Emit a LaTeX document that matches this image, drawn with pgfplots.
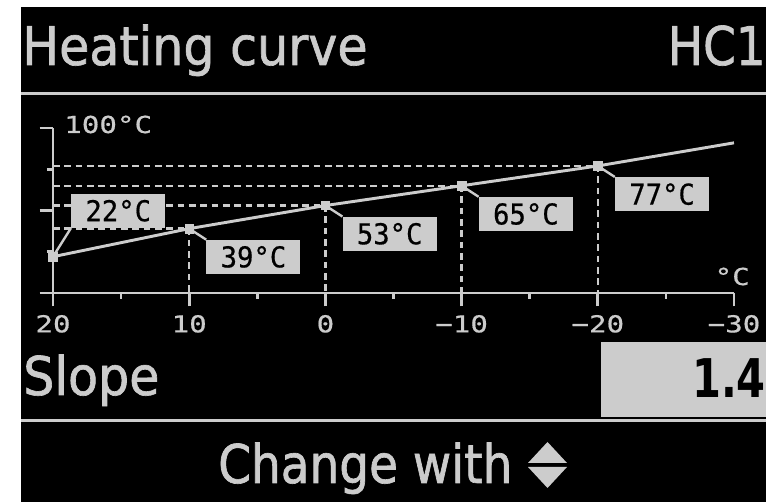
\documentclass[border=0pt]{standalone}
\usepackage{pgfplots}
\pgfplotsset{compat=1.18}
\usepackage{fontspec}
\setmainfont{DejaVu Sans}
\newfontfamily\headfont[FakeStretch=0.88, FakeBold=1.2]{DejaVu Sans}
\newfontfamily\headwide[FakeStretch=0.92, FakeBold=1.2]{DejaVu Sans}
\newfontfamily\numfont[FakeStretch=0.78]{DejaVu Sans}
\newfontfamily\tickfont[FakeStretch=1.25, FakeBold=0.6]{DejaVu Sans Mono}
\newfontfamily\boxfont[FakeStretch=0.95, FakeBold=0.6]{DejaVu Sans Mono}
\definecolor{lcd}{RGB}{204,204,204}
\tikzset{lbox/.style={fill=lcd, text=black, font=\boxfont\fontsize{21.5}{22}\selectfont, minimum width=70.5pt, minimum height=25.5pt, inner sep=0pt}}
\begin{document}
\begin{tikzpicture}[x=0.75pt,y=0.75pt]
\useasboundingbox (0,0) rectangle (766,502);
\fill[white] (0,0) rectangle (766,502);
\fill[black] (21,0) rectangle (766,495);
\fill[lcd] (21,407) rectangle (766,410);
\fill[lcd] (21,79.5) rectangle (766,82.5);
\fill[lcd] (601,85) rectangle (766,160);
\node[anchor=base west, inner sep=0, text=lcd, font=\headwide\fontsize{40}{40}\selectfont] at (22,437) {Heating curve};
\node[anchor=base east, inner sep=0, text=lcd, font=\headfont\fontsize{40}{40}\selectfont] at (766,437) {HC1};
\node[anchor=base west, inner sep=0, text=lcd, font=\headwide\fontsize{40}{40}\selectfont] at (23,107) {Slope};
\node[anchor=base east, inner sep=0, text=black, font=\numfont\bfseries\fontsize{40}{40}\selectfont] at (766,104) {1.4};
\node[anchor=base west, inner sep=0, text=lcd, font=\headfont\fontsize{40}{40}\selectfont] at (218,19) {Change with};
\fill[lcd] (528,39) -- (567,39) -- (547.5,60) -- cycle;
\fill[lcd] (528,35) -- (567,35) -- (547.5,14) -- cycle;
\node[anchor=base west, inner sep=0, text=lcd, font=\tickfont\fontsize{17.5}{18}\selectfont] at (64,369) {100°C};
\node[anchor=base east, inner sep=0, text=lcd, font=\tickfont\fontsize{17.5}{18}\selectfont] at (750,217) {°C};
\begin{axis}[
  at={(39.75pt,156.75pt)}, anchor=south west,
  scale only axis, width=510.75pt, height=123.75pt,
  xmin=-30, xmax=20, x dir=reverse, ymin=0, ymax=100,
  axis x line*=bottom, axis y line*=left,
  xtick={20,10,0,-10,-20,-30}, xticklabels={20,10,0,−10,−20,−30},
  minor xtick={15,5,-5,-15,-25},
  ytick={0,50,100}, yticklabels={}, minor ytick={25,75},
  tick align=outside, major tick length=10pt, minor tick length=4.5pt,
  axis line style={lcd, line width=2pt, -},
  every tick/.style={lcd, line width=2pt},
  xticklabel style={font=\tickfont\fontsize{17.5}{18}\selectfont, text=lcd, yshift=-3pt},
  clip=false,
]
\addplot[lcd, line width=1.8pt, dash pattern=on 5pt off 3.5pt] coordinates {(20,77) (-20,77) (-20,0)};
\addplot[lcd, line width=1.8pt, dash pattern=on 5pt off 3.5pt] coordinates {(20,65) (-10,65) (-10,0)};
\addplot[lcd, line width=1.8pt, dash pattern=on 5pt off 3.5pt] coordinates {(20,53) (0,53) (0,0)};
\addplot[lcd, line width=1.8pt, dash pattern=on 5pt off 3.5pt] coordinates {(20,39) (10,39) (10,0)};
\addplot[lcd, line width=2.2pt, mark=square*, mark size=3.2pt, mark indices={1,2,3,4,5}, mark options={solid, fill=lcd, line width=0.5pt}] coordinates {(20,22) (10,39) (0,53) (-10,65) (-20,77) (-30,91)};
\node[lbox, anchor=south west] (b22) at ([shift={(13.5pt,21.5pt)}]axis cs:20,22) {22°C};
\draw[lcd, line width=1.8pt] (axis cs:20,22) -- (b22.south west);
\node[lbox, anchor=north west] (b39) at ([shift={(12.75pt,-8.25pt)}]axis cs:10,39) {39°C};
\draw[lcd, line width=1.8pt] (axis cs:10,39) -- (b39.north west);
\node[lbox, anchor=north west] (b53) at ([shift={(12.75pt,-8.25pt)}]axis cs:0,53) {53°C};
\draw[lcd, line width=1.8pt] (axis cs:0,53) -- (b53.north west);
\node[lbox, anchor=north west] (b65) at ([shift={(12.75pt,-8.25pt)}]axis cs:-10,65) {65°C};
\draw[lcd, line width=1.8pt] (axis cs:-10,65) -- (b65.north west);
\node[lbox, anchor=north west] (b77) at ([shift={(12.75pt,-8.25pt)}]axis cs:-20,77) {77°C};
\draw[lcd, line width=1.8pt] (axis cs:-20,77) -- (b77.north west);
\end{axis}
\end{tikzpicture}
\end{document}
